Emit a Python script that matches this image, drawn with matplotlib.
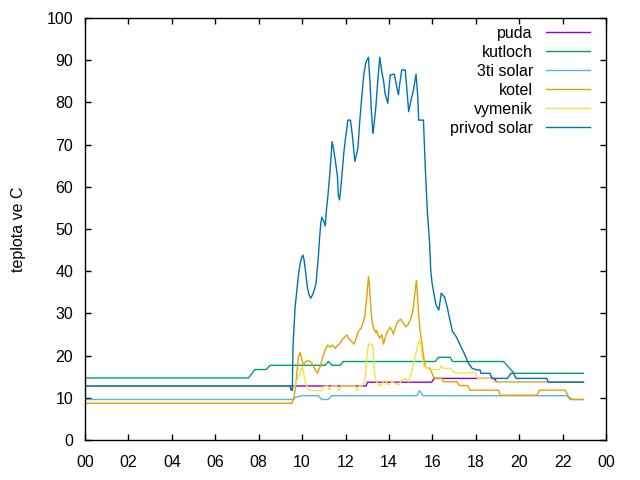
import matplotlib
matplotlib.use("Agg")
import matplotlib.pyplot as plt

plt.rcParams["font.family"] = ["Liberation Sans", "DejaVu Sans"]

# hours of day + temperatures
puda_t = [0, 12.95, 13.01, 15.97, 16.08, 18.85, 18.97, 22.96]
puda_v = [12.8, 12.8, 13.7, 13.7, 14.6, 14.6, 13.7, 13.7]

kutloch_t = [0, 7.53, 7.83, 8.34, 8.53, 11.06, 11.21, 11.3, 11.37, 11.75, 11.9,
             16.13, 16.28, 16.82, 16.94, 19.28, 19.77, 22.96]
kutloch_v = [14.7, 14.7, 16.7, 16.7, 17.7, 17.7, 18.6, 18.2, 17.7, 17.7, 18.6,
             18.6, 19.6, 19.6, 18.6, 18.6, 15.8, 15.8]

solar3_t = [0, 9.6, 9.68, 9.99, 10.75, 10.9, 11.21, 11.37, 15.28, 15.41, 15.56,
            22.2, 22.35, 22.96]
solar3_v = [9.6, 9.6, 10.1, 10.5, 10.5, 9.6, 9.6, 10.5, 10.5, 11.7, 10.5,
            10.5, 9.6, 9.6]

kotel_t = [0, 9.53, 9.60, 9.68, 9.76, 9.83, 9.91, 9.99, 10.06, 10.17, 10.32,
           10.45, 10.57, 10.71, 10.83, 10.94, 11.06, 11.18, 11.29, 11.40, 11.52,
           11.65, 11.75, 11.83, 11.95, 12.06, 12.17, 12.29, 12.40, 12.49, 12.59,
           12.72, 12.82, 12.90, 12.98, 13.06, 13.10, 13.18, 13.24, 13.33, 13.40,
           13.44, 13.52, 13.59, 13.67, 13.75, 13.82, 13.90, 13.98, 14.06, 14.13,
           14.21, 14.29, 14.36, 14.47, 14.55, 14.62, 14.71, 14.79, 14.88, 14.98,
           15.06, 15.13, 15.19, 15.24, 15.27, 15.31, 15.38, 15.44, 15.50, 15.56,
           15.62, 15.68, 15.75, 15.90, 15.98, 16.05, 16.13, 16.44, 16.51, 17.13,
           17.25, 17.62, 17.74, 19.05, 19.12, 20.82, 20.94, 22.12, 22.27, 22.43,
           22.96]
kotel_v = [8.7, 8.7, 9.6, 11.8, 15.8, 19.7, 20.7, 19.0, 17.8, 18.6, 18.8,
           18.2, 17.0, 15.8, 17.4, 19.4, 21.3, 22.5, 22.0, 22.5, 21.7,
           22.5, 22.9, 23.7, 24.3, 24.9, 23.9, 23.3, 22.7, 24.1, 25.7,
           26.5, 28.0, 29.6, 34.0, 38.7, 36.7, 30.4, 27.6, 26.1, 25.4,
           25.9, 24.6, 24.1, 25.0, 22.7, 24.1, 25.3, 26.1, 26.7, 26.1,
           25.1, 26.5, 27.6, 28.4, 28.6, 28.0, 27.3, 26.8, 27.3, 28.4,
           29.6, 31.6, 34.4, 36.7, 37.8, 34.4, 29.2, 25.7, 23.7, 21.3,
           19.0, 17.4, 17.0, 17.0, 15.9, 15.0, 14.6, 14.6, 13.8, 13.8,
           12.9, 12.9, 11.8, 11.8, 10.6, 10.6, 11.8, 11.8, 10.3, 9.6,
           9.6]

vymenik_t = [0, 9.37, 9.53, 9.65, 9.76, 9.91, 10.01, 10.09, 10.17, 10.29, 10.45,
             10.91, 10.98, 11.18, 11.24, 11.37, 11.60, 11.71, 11.80, 12.44, 12.52,
             12.63, 12.75, 12.87, 12.94, 12.98, 13.06, 13.24, 13.29, 13.33, 13.40,
             13.49, 13.59, 13.70, 13.82, 13.98, 14.13, 14.29, 14.44, 14.59, 14.75,
             14.90, 15.01, 15.10, 15.21, 15.31, 15.41, 15.47, 15.52, 15.56, 15.62,
             15.75, 15.90, 16.33, 16.41, 16.51, 16.82, 17.05, 17.97, 18.08, 18.74,
             18.85, 21.27, 21.35, 22.96]
vymenik_v = [12.8, 12.8, 11.8, 12.6, 14.2, 15.8, 17.4, 15.4, 13.4, 12.0, 11.7,
             11.7, 12.6, 12.8, 11.8, 12.8, 12.8, 11.8, 12.8, 12.8, 11.8,
             12.8, 12.8, 13.8, 15.8, 19.7, 22.7, 22.7, 20.1, 16.2, 14.2,
             13.3, 12.8, 13.6, 14.1, 13.0, 13.8, 13.4, 13.0, 14.2, 14.6,
             13.8, 15.4, 17.4, 19.7, 22.1, 23.7, 22.5, 20.1, 18.2, 17.5,
             17.0, 16.7, 16.7, 17.5, 17.0, 17.0, 15.9, 15.9, 14.6, 14.6,
             13.7, 13.7, 13.7, 13.7]

privod_t = [0, 9.45, 9.49, 9.55, 9.58, 9.68, 9.76, 9.84, 9.91, 9.99, 10.04,
            10.09, 10.17, 10.24, 10.32, 10.40, 10.48, 10.56, 10.64, 10.71, 10.76,
            10.80, 10.86, 10.91, 11.01, 11.07, 11.12, 11.18, 11.23, 11.28, 11.32,
            11.38, 11.43, 11.53, 11.63, 11.67, 11.72, 11.76, 11.83, 11.92, 12.01,
            12.11, 12.23, 12.32, 12.43, 12.50, 12.57, 12.66, 12.75, 12.84, 12.94,
            13.06, 13.10, 13.13, 13.18, 13.26, 13.30, 13.40, 13.49, 13.58, 13.67,
            13.76, 13.82, 13.95, 14.01, 14.06, 14.25, 14.39, 14.44, 14.48, 14.59,
            14.75, 14.85, 14.91, 15.02, 15.13, 15.25, 15.33, 15.37, 15.59, 15.68,
            15.77, 15.87, 15.93, 15.99, 16.11, 16.17, 16.30, 16.41, 16.56, 16.68,
            16.81, 16.93, 17.10, 17.28, 17.47, 17.65, 17.83, 18.05, 18.20, 18.24,
            18.66, 18.74, 19.46, 19.62, 19.74, 19.86, 21.27, 21.35, 22.96]
privod_v = [12.8, 12.8, 11.8, 11.8, 22.0, 31.6, 35.5, 39.5, 41.8, 43.4, 43.8,
            42.7, 39.5, 36.3, 34.4, 33.6, 34.4, 35.5, 37.1, 41.0, 44.2,
            47.4, 51.3, 52.8, 51.7, 50.7, 54.5, 57.3, 60.3, 63.2, 66.0,
            70.7, 69.5, 66.3, 62.4, 58.0, 56.9, 58.5, 62.4, 67.9, 71.9,
            75.8, 75.8, 72.0, 66.0, 67.5, 69.1, 75.8, 81.3, 86.5, 89.6,
            90.7, 87.0, 84.9, 79.0, 72.7, 74.0, 79.0, 85.3, 90.7, 87.3,
            84.9, 82.1, 79.8, 83.7, 86.5, 86.7, 82.9, 81.8, 83.7, 87.7,
            87.7, 81.8, 77.8, 80.6, 82.9, 86.7, 81.3, 75.8, 75.8, 64.0,
            54.1, 47.0, 39.9, 37.1, 33.6, 32.0, 30.8, 34.8, 33.9, 31.6,
            28.4, 25.7, 24.5, 22.5, 20.5, 18.3, 17.0, 16.6, 16.6, 15.8,
            15.8, 14.6, 14.6, 15.8, 15.8, 14.6, 14.6, 13.7, 13.7]

series = [
    ("puda", puda_t, puda_v, "#9400d3"),
    ("kutloch", kutloch_t, kutloch_v, "#009e73"),
    ("3ti solar", solar3_t, solar3_v, "#56b4e9"),
    ("kotel", kotel_t, kotel_v, "#e69f00"),
    ("vymenik", vymenik_t, vymenik_v, "#f0e442"),
    ("privod solar", privod_t, privod_v, "#0072b2"),
]

hour_ticks = list(range(0, 25, 2))
hour_labels = ["%02d" % (h % 24) for h in hour_ticks]

fig = plt.figure(figsize=(6.4, 4.8), dpi=100)
ax = fig.add_axes([85/640, 1-440/480, (606-85)/640, (440-18)/480])

for name, t, v, col in series:
    ax.plot(t, v, color=col, linewidth=1.0, label=name)

ax.set_xlim(0, 24)
ax.set_ylim(0, 100)
ax.set_xticks(hour_ticks)
ax.set_xticklabels(hour_labels)
ax.set_yticks(range(0, 101, 10))
ax.tick_params(direction="in", top=True, right=True, length=4.5, width=1,
               labelsize=11.5)
ax.tick_params(axis="x", pad=11)
ax.tick_params(axis="y", pad=8.5)
ax.set_ylabel("teplota ve C", fontsize=11.5, labelpad=15)
for s in ax.spines.values():
    s.set_linewidth(1)

ax.legend(loc="upper right", frameon=False, markerfirst=False, fontsize=11.5,
          handlelength=2.7, handletextpad=0.85, labelspacing=0.25,
          borderaxespad=0.3, bbox_to_anchor=(0.99, 1.008))

fig.savefig("out.png", dpi=100)
